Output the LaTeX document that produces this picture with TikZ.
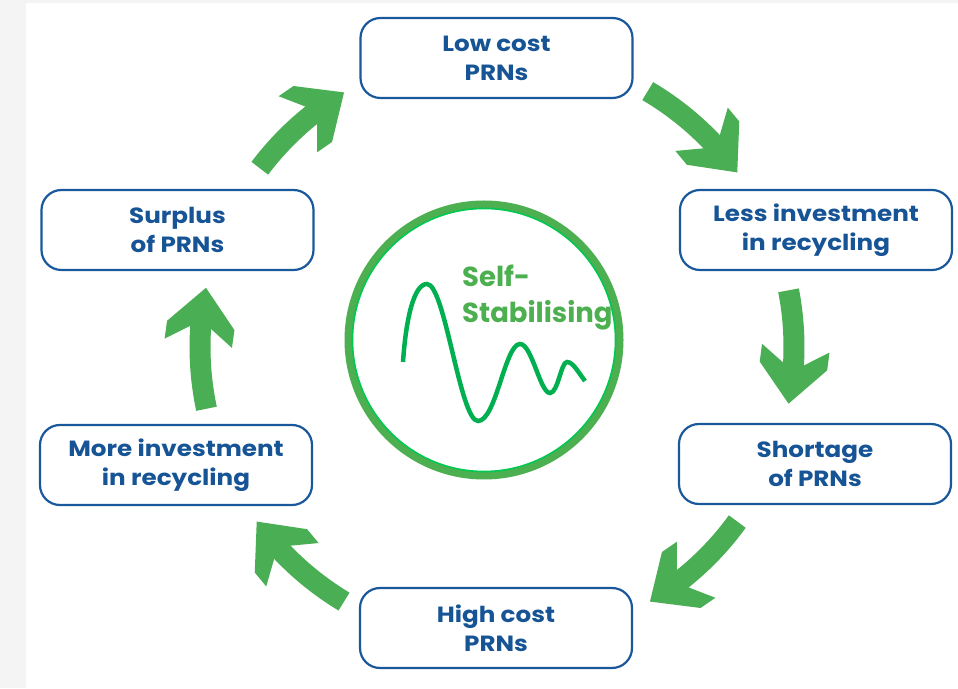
\documentclass[tikz,border=0pt]{standalone}
\usepackage{fontspec}
\setmainfont{Poppins}
\newfontfamily\boxfont[FakeStretch=1.12]{Poppins}
\usetikzlibrary{calc}
\definecolor{boxblue}{RGB}{25,88,155}
\definecolor{txtblue}{RGB}{22,84,150}
\definecolor{arrgreen}{RGB}{74,175,84}
\definecolor{wavegreen}{RGB}{0,176,80}
\definecolor{ringgreen}{RGB}{76,175,80}
\definecolor{ringbright}{RGB}{0,200,80}
\definecolor{bggray}{RGB}{244,244,244}
\tikzset{
  box/.style={draw=boxblue, line width=2.2pt, rounded corners=20pt,
    minimum width=272pt, minimum height=80pt, fill=white, align=center,
    font=\boxfont\fontsize{22}{29}\selectfont\bfseries, text=txtblue, inner sep=0pt},
  shaft/.style={draw=arrgreen, line width=21pt, line cap=butt},
  headfill/.style={fill=arrgreen},
  selftext/.style={anchor=base west, inner sep=0pt, text=ringgreen,
    font=\fontsize{27.5}{34}\selectfont\bfseries},
}
\newcommand\cyclearrow[3]{%
  \coordinate (#1s) at ($(C)+(#2:297)$);
  \coordinate (#1t) at ($(C)+(#3:297)$);
  \draw[shaft] (#1s) arc[start angle=#2, end angle=#3+5.5, radius=297];
  \begin{scope}[shift={(C)}, rotate=#3]
    \fill[headfill, rotate around={3.6:(297,0)}] (297,0) -- (331,38) -- (331,56)
      -- (307.5,40) -- (286.5,40) -- (263,56) -- (263,38) -- cycle;
  \end{scope}
}
\begin{document}
\begin{tikzpicture}[x=1pt,y=1pt]
\useasboundingbox (0,0) rectangle (958,688);
\fill[bggray] (0,0) rectangle (958,688);
\fill[white] (26,0) rectangle (958,685);

\node[box] (low) at (496.5,630) {Low cost\\PRNs};
\node[box] (less) at (816,458) {Less investment\\in recycling};
\node[box] (short) at (815,224) {Shortage\\of PRNs};
\node[box] (high) at (496,60) {High cost\\PRNs};
\node[box] (more) at (176,223) {More investment\\in recycling};
\node[box] (surplus) at (177.5,458) {Surplus\\of PRNs};

\coordinate (C) at (497,341);
\cyclearrow{a1}{143}{121}
\cyclearrow{a2}{59.5}{36}
\cyclearrow{a3}{11}{-11}
\cyclearrow{a4}{-36}{-59}
\cyclearrow{a5}{-121}{-144}
\cyclearrow{a6}{192}{168.5}

% centre circle
\coordinate (O) at (484,348);
\draw[ringgreen, line width=8pt] (O) circle[radius=135.5];
\draw[ringbright, line width=1.6pt] (O) circle[radius=131.5];

% damped wave
\draw[wavegreen, line width=4.5pt, line cap=butt]
  (403,326) .. controls (406,370) and (414,404) .. (427,404)
  .. controls (445,404) and (460,267) .. (478,267)
  .. controls (496,267) and (505,344) .. (520,344)
  .. controls (532,344) and (540,295) .. (550,295)
  .. controls (558,295) and (561,326) .. (567,326)
  .. controls (573,326) and (578,316) .. (585,307);

\node[selftext] (self) at (462,401) {Self-};
\node[selftext] (stab) at (462,365) {Stabilising};
\end{tikzpicture}
\end{document}
